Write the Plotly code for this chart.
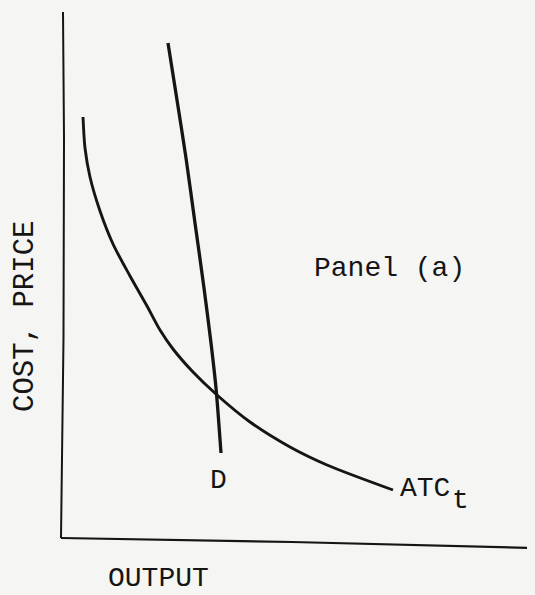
import plotly.graph_objects as go

# hand-drawn axes (origin at the corner, units roughly in pixels)
y_axis_x = [1, 2, 1.5, -1]
y_axis_y = [526, 400, 200, 0]
x_axis_x = [-1, 230, 473]
x_axis_y = [0, -4, -10]

# demand curve D
d_x = [106, 115, 124, 133, 142, 149, 154, 159]
d_y = [495, 438, 380, 315, 250, 195, 150, 85]

# average total cost curve ATC_t
atc_x = [21, 23, 28, 38, 51, 68, 85, 98, 111, 131, 155, 188, 228, 265, 331]
atc_y = [421, 390, 361, 327, 294, 262, 232, 208, 189, 166, 143, 116, 91, 73, 48]

ink = "#151515"
font = "Liberation Mono"
bg = "#f5f5f3"

fig = go.Figure()
fig.add_trace(go.Scatter(x=y_axis_x, y=y_axis_y, mode="lines",
                         line=dict(color=ink, width=2)))
fig.add_trace(go.Scatter(x=x_axis_x, y=x_axis_y, mode="lines",
                         line=dict(color=ink, width=2.2)))
fig.add_trace(go.Scatter(x=d_x, y=d_y, mode="lines",
                         line=dict(color=ink, width=3.3, shape="spline", smoothing=0.8)))
fig.add_trace(go.Scatter(x=atc_x, y=atc_y, mode="lines",
                         line=dict(color=ink, width=2.9, shape="spline", smoothing=0.8)))

labels = [
    dict(x=327, y=270, text="Panel (a)"),
    dict(x=96, y=-40, text="OUTPUT"),
    dict(x=156, y=58, text="D"),
    dict(x=363, y=50, text="ATC"),
    dict(x=398, y=38, text="t"),
]
for lb in labels:
    fig.add_annotation(x=lb["x"], y=lb["y"], text=lb["text"], showarrow=False,
                       xref="x", yref="y", xanchor="center", yanchor="middle",
                       font=dict(family=font, size=28, color=ink))
fig.add_annotation(x=-37, y=221, text="COST, PRICE", textangle=-90, showarrow=False,
                   xref="x", yref="y", font=dict(family=font, size=29, color=ink))

# ranges shifted by 8px to offset the page's default body margin
fig.update_layout(
    width=535, height=595, showlegend=False,
    margin=dict(l=0, r=0, t=0, b=0),
    paper_bgcolor=bg, plot_bgcolor=bg,
    xaxis=dict(range=[-54, 481], visible=False, fixedrange=True),
    yaxis=dict(range=[-65, 530], visible=False, fixedrange=True),
)
fig.write_html("out.html", post_script="document.body.style.background='%s';" % bg)
